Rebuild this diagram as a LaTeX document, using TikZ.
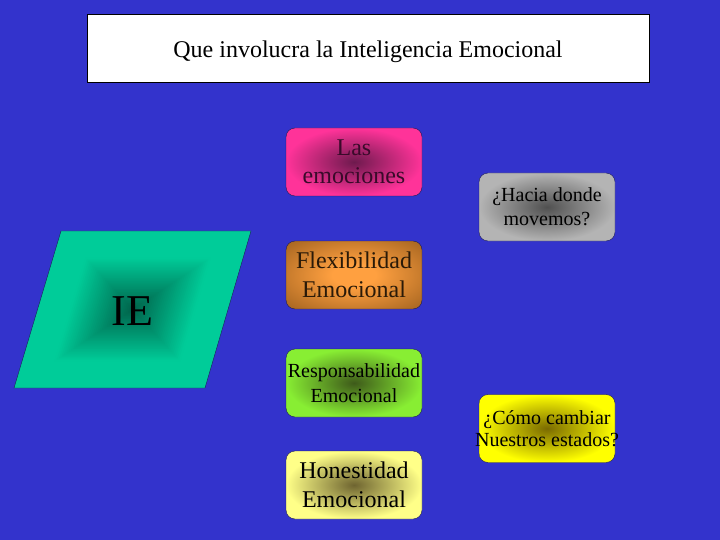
\documentclass[tikz,border=0pt]{standalone}
\usepackage{fontspec}
\setmainfont{Liberation Serif}
\usepackage{tikz}
\usetikzlibrary{positioning}
\usepackage{xcolor}

\definecolor{fondo}{HTML}{3333CC}
\definecolor{borde}{HTML}{1A1A5A}
\definecolor{ieout}{HTML}{00CC99}
\definecolor{iein}{HTML}{00624A}
\definecolor{flexin}{HTML}{FFA040}
\definecolor{flexout}{HTML}{74440F}
\definecolor{flextext}{HTML}{2A1A08}
\definecolor{emoout}{HTML}{FF3399}
\definecolor{emoin}{HTML}{6E1A4E}
\definecolor{emotext}{HTML}{3A0A2A}
\definecolor{resout}{HTML}{88EE33}
\definecolor{resin}{HTML}{3E5A1A}
\definecolor{honout}{HTML}{FFFF88}
\definecolor{honin}{HTML}{6E6430}
\definecolor{hacout}{HTML}{B4B4B4}
\definecolor{hacin}{HTML}{505050}
\definecolor{comout}{HTML}{FFFF00}
\definecolor{comin}{HTML}{7A6A00}
\pgfdeclareradialshading{flexglow}{\pgfpoint{0bp}{0bp}}{color(0bp)=(flexin); color(8bp)=(flexin); color(50bp)=(flexout)}

\tikzset{
	caja/.style={draw=borde, rounded corners=9pt, minimum width=136pt, minimum height=68pt, align=center, inner sep=0pt},
	mancha/.style 2 args={caja, inner color=#1, outer color=#2},
}

\begin{document}
\begin{tikzpicture}[x=1pt, y=-1pt]
		\fill[fondo] (0,0) rectangle (720,540);
		% titulo
		\node[draw=black, fill=white, minimum width=562pt, minimum height=68pt, text height=24pt, text depth=5pt, font=\fontsize{24}{28}\selectfont] (titulo) at (368,48) {Que involucra la Inteligencia Emocional};
		% paralelogramo IE
		\begin{scope}[shift={(132.75,309.5)}]
			\foreach \s [evaluate=\s as \mixp using {int(min(100,\s*1.5))}] in {100,98,...,2}
				\fill[ieout!\mixp!iein, scale=\s/100] (-71.75,-78.5) -- (118.25,-78.5) -- (72.25,78.5) -- (-118.75,78.5) -- cycle;
			\draw[borde] (-71.75,-78.5) -- (118.25,-78.5) -- (72.25,78.5) -- (-118.75,78.5) -- cycle;
			\node[font=\fontsize{44}{50}\selectfont] (ie) at (0,1.5) {IE};
		\end{scope}
		% columna izquierda
		\node[mancha={emoin}{emoout}, text=emotext, font=\fontsize{24}{28}\selectfont] (emociones) at (354,162) {Las\\emociones};
		\node[caja, shading=flexglow, text=flextext, font=\fontsize{24}{29}\selectfont] (flexibilidad) at (354,275) {Flexibilidad\\Emocional};
		\node[mancha={resin}{resout}, font=\fontsize{20}{25}\selectfont] (responsabilidad) at (354,383) {Responsabilidad\\Emocional};
		\node[mancha={honin}{honout}, font=\fontsize{24}{29}\selectfont] (honestidad) at (354,485) {Honestidad\\Emocional};
		% columna derecha
		\node[mancha={hacin}{hacout}, font=\fontsize{20}{24}\selectfont] (hacia) at (547,207) {¿Hacia donde\\movemos?};
		\node[mancha={comin}{comout}, inner xsep=-5pt, font=\fontsize{20}{22}\selectfont] (como) at (547,428.5) {¿Cómo cambiar\\Nuestros estados?};
	\end{tikzpicture}
\end{document}
